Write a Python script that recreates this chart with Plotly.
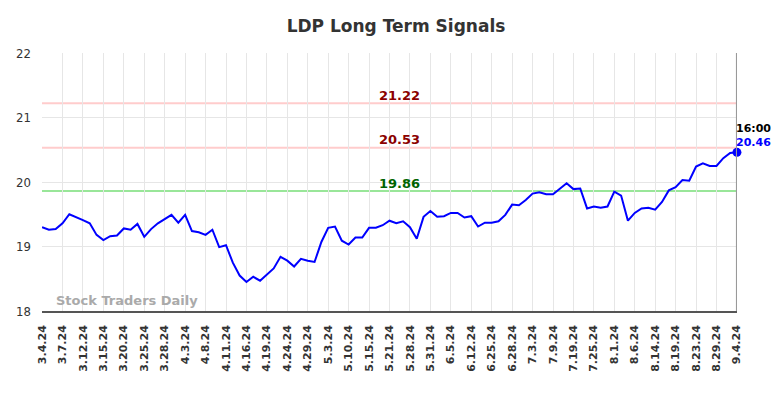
import plotly.graph_objects as go

tick_labels = ["3.4.24", "3.7.24", "3.12.24", "3.15.24", "3.20.24", "3.25.24", "3.28.24",
               "4.3.24", "4.8.24", "4.11.24", "4.16.24", "4.19.24", "4.24.24", "4.29.24",
               "5.3.24", "5.10.24", "5.15.24", "5.21.24", "5.28.24", "5.31.24", "6.5.24",
               "6.12.24", "6.25.24", "6.28.24", "7.3.24", "7.9.24", "7.19.24", "7.25.24",
               "8.1.24", "8.6.24", "8.14.24", "8.19.24", "8.23.24", "8.29.24", "9.4.24"]

prices = [19.30, 19.26, 19.27, 19.36, 19.50, 19.46, 19.41, 19.36, 19.18, 19.10,
          19.16, 19.17, 19.28, 19.26, 19.35, 19.15, 19.27, 19.36, 19.43, 19.49,
          19.37, 19.49, 19.24, 19.22, 19.18, 19.26, 18.99, 19.02, 18.75, 18.55,
          18.45, 18.53, 18.47, 18.57, 18.66, 18.84, 18.78, 18.69, 18.81, 18.78,
          18.76, 19.07, 19.29, 19.31, 19.09, 19.03, 19.14, 19.14, 19.29, 19.29,
          19.33, 19.40, 19.36, 19.39, 19.30, 19.12, 19.46, 19.55, 19.46, 19.47,
          19.52, 19.52, 19.45, 19.47, 19.31, 19.37, 19.37, 19.39, 19.49, 19.65,
          19.64, 19.72, 19.82, 19.84, 19.81, 19.81, 19.90, 19.98, 19.89, 19.90,
          19.59, 19.62, 19.60, 19.62, 19.85, 19.79, 19.40, 19.52, 19.59, 19.60,
          19.57, 19.69, 19.87, 19.92, 20.03, 20.02, 20.24, 20.29, 20.25, 20.25,
          20.37, 20.45, 20.46]

resistance_levels = [21.22, 20.53]
support_levels = [19.86]
last_time = "16:00"

x = list(range(len(prices)))
tick_step = 3
tickvals = list(range(0, len(prices), tick_step))

fig = go.Figure()
fig.add_trace(go.Scatter(x=x, y=prices, mode="lines",
                         line=dict(color="#0000ff", width=2), hoverinfo="skip"))
fig.add_trace(go.Scatter(x=[x[-1]], y=[prices[-1]], mode="markers",
                         marker=dict(color="#0000ff", size=9), cliponaxis=False,
                         hoverinfo="skip"))

mid = (x[0] + x[-1]) / 2
for lv in resistance_levels:
    fig.add_hline(y=lv, line=dict(color="#ffcccc", width=2), layer="below")
    fig.add_annotation(x=mid, y=lv, text=f"<b>{lv:.2f}</b>", showarrow=False,
                       yshift=8, xshift=10, yanchor="middle",
                       font=dict(color="#8b0000", size=13, family="DejaVu Sans"))
for lv in support_levels:
    fig.add_hline(y=lv, line=dict(color="#99e699", width=2), layer="below")
    fig.add_annotation(x=mid, y=lv, text=f"<b>{lv:.2f}</b>", showarrow=False,
                       yshift=8, xshift=10, yanchor="middle",
                       font=dict(color="#006400", size=13, family="DejaVu Sans"))

fig.add_shape(type="line", xref="x", yref="paper", x0=x[-1], x1=x[-1], y0=0, y1=1,
              line=dict(color="#999999", width=2))

fig.add_annotation(x=x[-1], y=prices[-1], text=f"<b>{last_time}</b>", showarrow=False,
                   xanchor="left", yshift=24, xshift=-3,
                   font=dict(color="#000000", size=11, family="DejaVu Sans"))
fig.add_annotation(x=x[-1], y=prices[-1], text=f"<b>{prices[-1]:.2f}</b>", showarrow=False,
                   xanchor="left", yshift=10, xshift=-3,
                   font=dict(color="#0000ff", size=11, family="DejaVu Sans"))

fig.add_annotation(xref="paper", yref="paper", x=0.017, y=0.005, xanchor="left",
                   yanchor="bottom", text="<b>Stock Traders Daily</b>", showarrow=False,
                   font=dict(color="#aaaaaa", size=13, family="DejaVu Sans"))

fig.update_layout(
    width=776, height=390,
    margin=dict(l=34, r=47, t=45, b=87),
    paper_bgcolor="white", plot_bgcolor="white",
    showlegend=False,
    title=dict(text="<b>LDP Long Term Signals</b>", x=0.5, xanchor="center",
               y=0.954, yanchor="middle",
               font=dict(size=17, color="#333333", family="DejaVu Sans")),
    font=dict(family="DejaVu Sans", color="#333333"),
)
fig.update_xaxes(range=[x[0] - 0.01, x[-1] + 0.01], tickvals=tickvals, ticktext=tick_labels,
                 tickangle=-90, showgrid=True, gridcolor="#e6e6e6", gridwidth=1,
                 showline=True, linecolor="#555555", linewidth=1.5, zeroline=False,
                 tickfont=dict(size=11, family="DejaVu Sans", color="#333333", weight="bold"),
                 ticks="", ticklabelstandoff=8, automargin=False)
fig.update_yaxes(range=[18, 22], dtick=1, showgrid=True, gridcolor="#e6e6e6",
                 zeroline=False, showline=False,
                 tickfont=dict(size=13, family="DejaVu Sans Condensed", color="#333333"),
                 ticks="", ticklabelstandoff=10, automargin=False)

fig.write_html("out.html")
